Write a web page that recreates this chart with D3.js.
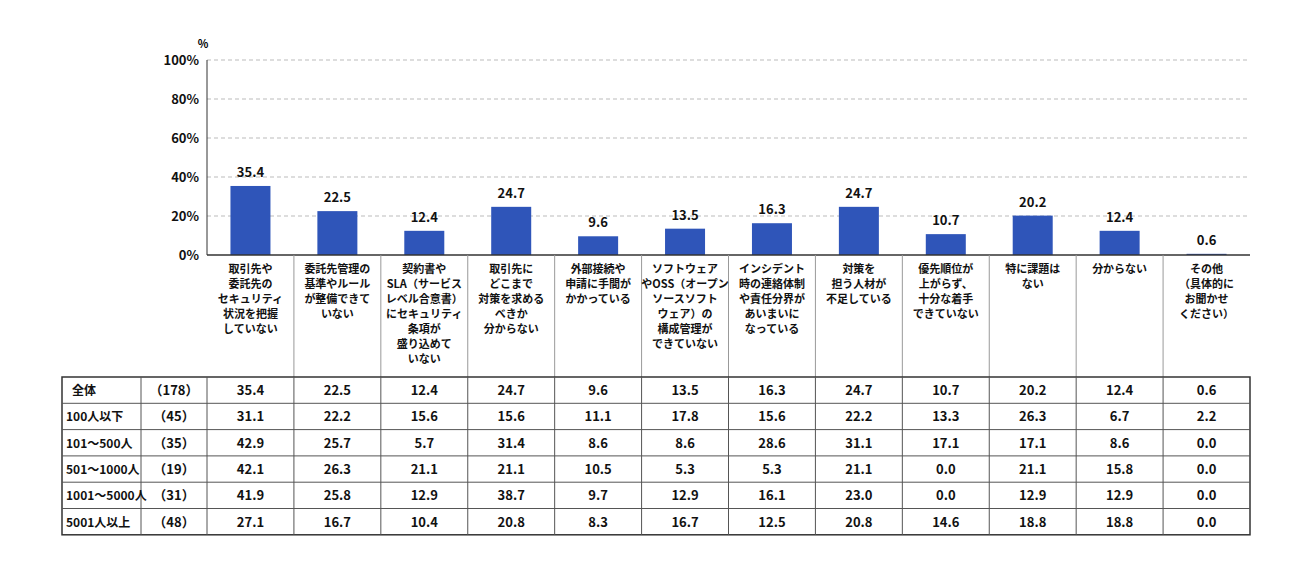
<!DOCTYPE html>
<html><head><meta charset="utf-8">
<script src="https://cdn.jsdelivr.net/npm/d3@7"></script>
<style>body{margin:0;background:#fff;font-family:"Noto Sans CJK JP",sans-serif;}</style>
</head><body><svg id="c" width="1300" height="573"></svg>
<script>
const categories=[
["取引先や","委託先の","セキュリティ","状況を把握","していない"],
["委託先管理の","基準やルール","が整備できて","いない"],
["契約書や","SLA（サービス","レベル合意書）","にセキュリティ","条項が","盛り込めて","いない"],
["取引先に","どこまで","対策を求める","べきか","分からない"],
["外部接続や","申請に手間が","かかっている"],
["ソフトウェア","やOSS（オープン","ソースソフト","ウェア）の","構成管理が","できていない"],
["インシデント","時の連絡体制","や責任分界が","あいまいに","なっている"],
["対策を","担う人材が","不足している"],
["優先順位が","上がらず、","十分な着手","できていない"],
["特に課題は","ない"],
["分からない"],
["その他","（具体的に","お聞かせ","ください）"]];
const totalValues=[35.4,22.5,12.4,24.7,9.6,13.5,16.3,24.7,10.7,20.2,12.4,0.6];
const yTicks=[0,20,40,60,80,100];
const groups=["全体","100人以下","101～500人","501～1000人","1001～5000人","5001人以上"];
const groupN=["（178）","（45）","（35）","（19）","（31）","（48）"];
const tableValues=[
[35.4,22.5,12.4,24.7,9.6,13.5,16.3,24.7,10.7,20.2,12.4,0.6],
[31.1,22.2,15.6,15.6,11.1,17.8,15.6,22.2,13.3,26.3,6.7,2.2],
[42.9,25.7,5.7,31.4,8.6,8.6,28.6,31.1,17.1,17.1,8.6,0.0],
[42.1,26.3,21.1,21.1,10.5,5.3,5.3,21.1,0.0,21.1,15.8,0.0],
[41.9,25.8,12.9,38.7,9.7,12.9,16.1,23.0,0.0,12.9,12.9,0.0],
[27.1,16.7,10.4,20.8,8.3,16.7,12.5,20.8,14.6,18.8,18.8,0.0]];

const svg=d3.select("#c");
const L=207,R=1250,T=60,B=255;
const x=d3.scaleBand().domain(d3.range(12)).range([L,R]);
const y=d3.scaleLinear().domain([0,100]).range([B,T]);
const txt="#111";
// grid
svg.append("g").selectAll("line").data(yTicks.slice(1)).join("line")
 .attr("x1",L).attr("x2",R).attr("y1",d=>y(d)).attr("y2",d=>y(d))
 .attr("stroke","#bbb").attr("stroke-dasharray","4,3");
svg.append("g").selectAll("text").data(yTicks).join("text")
 .attr("x",L-8).attr("y",d=>y(d)+5).attr("text-anchor","end")
 .attr("font-size",13).attr("font-weight","bold").attr("fill",txt).text(d=>d+"%");
svg.append("text").attr("x",203).attr("y",48).attr("text-anchor","middle").attr("font-size",11).attr("font-weight","bold").text("%");
// bars
svg.append("g").selectAll("rect").data(totalValues).join("rect")
 .attr("x",(d,i)=>x(i)+x.bandwidth()/2-20).attr("width",40)
 .attr("y",d=>y(d)).attr("height",d=>B-y(d)).attr("fill","#2f55b9");
svg.append("g").selectAll("text").data(totalValues).join("text")
 .attr("x",(d,i)=>x(i)+x.bandwidth()/2).attr("y",d=>y(d)-9).attr("text-anchor","middle")
 .attr("font-size",13).attr("font-weight","bold").attr("fill",txt).text(d=>d.toFixed(1));
svg.append("line").attr("x1",L).attr("x2",L).attr("y1",T).attr("y2",B).attr("stroke","#333");
svg.append("line").attr("x1",L).attr("x2",R).attr("y1",B).attr("y2",B).attr("stroke","#333").attr("stroke-width",1.5);
// category labels
const TT=377;
d3.range(1,12).forEach(i=>svg.append("line").attr("x1",x(i)).attr("x2",x(i)).attr("y1",B).attr("y2",TT).attr("stroke","#999"));
categories.forEach((lines,i)=>{
 const t=svg.append("text").attr("x",x(i)+x.bandwidth()/2).attr("y",273).attr("text-anchor","middle")
  .attr("font-size",11).attr("font-weight","bold").attr("fill",txt);
 lines.forEach((s,j)=>t.append("tspan").attr("x",x(i)+x.bandwidth()/2).attr("dy",j?15:0).text(s));
});
// table
const rowH=26.3, tx0=62, c1=141;
const tb=svg.append("g");
tb.append("rect").attr("x",tx0).attr("y",TT).attr("width",R-tx0).attr("height",rowH*6).attr("fill","none").attr("stroke","#333").attr("stroke-width",1.5);
d3.range(1,6).forEach(r=>tb.append("line").attr("x1",tx0).attr("x2",R).attr("y1",TT+r*rowH).attr("y2",TT+r*rowH).attr("stroke","#555"));
[c1,L,...d3.range(1,12).map(i=>x(i))].forEach(v=>tb.append("line").attr("x1",v).attr("x2",v).attr("y1",TT).attr("y2",TT+rowH*6).attr("stroke","#555"));
groups.forEach((g,r)=>{
 const cy=TT+r*rowH+rowH/2+5;
 tb.append("text").attr("x",r==0?72:66).attr("y",cy).attr("font-size",12).attr("font-weight","bold").attr("fill",txt).text(g);
 tb.append("text").attr("x",(c1+L)/2).attr("y",cy).attr("text-anchor","middle").attr("font-size",13).attr("font-weight","bold").attr("fill",txt).text(groupN[r]);
 tableValues[r].forEach((v,i)=>tb.append("text").attr("x",x(i)+x.bandwidth()/2).attr("y",cy).attr("text-anchor","middle")
   .attr("font-size",13).attr("font-weight","bold").attr("fill",txt).text(v.toFixed(1)));
});
</script></body></html>
